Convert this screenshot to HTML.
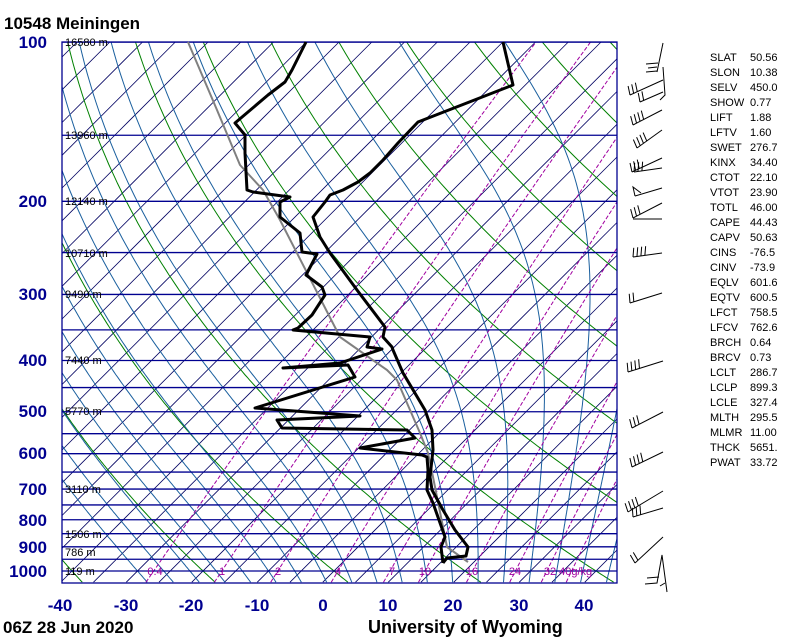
<!DOCTYPE html>
<html><head><meta charset="utf-8">
<style>
html,body{margin:0;padding:0;background:#fff;width:800px;height:640px;overflow:hidden;}
svg{display:block;}
text{font-family:"Liberation Sans",Arial,sans-serif;}
</style></head>
<body>
<svg id="s" width="800" height="640" viewBox="0 0 800 640" xmlns="http://www.w3.org/2000/svg" overflow="hidden">
<g id="bg"></g>
<g fill="#fff">
<rect x="0" y="0" width="62" height="640"/>
<rect x="617" y="0" width="183" height="640"/>
<rect x="0" y="0" width="800" height="42"/>
<rect x="0" y="583" width="800" height="57"/>
</g>
<g id="fg"></g>
<text x="4" y="29" font-size="17" font-weight="bold">10548  Meiningen</text>
<g font-size="17" font-weight="bold" fill="#000090" text-anchor="end">
<text x="47" y="48">100</text><text x="47" y="207">200</text><text x="47" y="300">300</text>
<text x="47" y="366">400</text><text x="47" y="417">500</text><text x="47" y="459">600</text>
<text x="47" y="495">700</text><text x="47" y="526">800</text><text x="47" y="553">900</text>
<text x="47" y="577">1000</text></g>
<g font-size="17" font-weight="bold" fill="#000090" text-anchor="middle">
<text x="60" y="611">-40</text><text x="126" y="611">-30</text><text x="191" y="611">-20</text>
<text x="257" y="611">-10</text><text x="323" y="611">0</text><text x="388" y="611">10</text>
<text x="453" y="611">20</text><text x="519" y="611">30</text><text x="584" y="611">40</text></g>
<text x="3" y="633" font-size="17" font-weight="bold">06Z 28 Jun 2020</text>
<text x="368" y="633" font-size="18" font-weight="bold">University of Wyoming</text>
<g font-size="11" fill="#000">
<text x="65" y="46">16580 m</text><text x="65" y="139">13960 m</text><text x="65" y="205">12140 m</text>
<text x="65" y="257">10710 m</text><text x="65" y="298">9490 m</text><text x="65" y="364">7440 m</text>
<text x="65" y="415">5770 m</text><text x="65" y="493">3110 m</text><text x="65" y="538">1506 m</text>
<text x="65" y="556">786 m</text><text x="65" y="575">119 m</text></g>
<g font-size="11" fill="#a000a0" text-anchor="middle">
<text x="155" y="575">0.4</text><text x="222" y="575">1</text><text x="278" y="575">2</text>
<text x="338" y="575">4</text><text x="392" y="575">7</text><text x="425" y="575">10</text>
<text x="472" y="575">16</text><text x="515" y="575">24</text><text x="568" y="575">32 40g/kg</text></g>
<g id="stats" font-size="11" fill="#000"></g>
<g id="barbs" stroke="#000" stroke-width="1" fill="none"></g>
</svg>
<script>
var NS="http://www.w3.org/2000/svg";
function el(p,n,a){var e=document.createElementNS(NS,n);for(var k in a)e.setAttribute(k,a[k]);p.appendChild(e);return e;}
var bg=document.getElementById('bg'),fg=document.getElementById('fg');
function Y(p){return 571+229.7*Math.log(p/1000);}
function X(T,p){return 322+6.55*T+(583-Y(p));}
var ps=[];for(var q=1050;q>=100;q-=5)ps.push(q);
function clipPt(q){return [Math.max(-20,Math.min(820,q[0])),Math.max(0,Math.min(640,q[1]))];}
function line(pts,st,w,dash){pts=pts.filter(function(q){return isFinite(q[0])&&isFinite(q[1])&&q[0]>-300&&q[0]<1100;});if(pts.length<2)return;var d=pts.map(function(q,i){return (i?'L':'M')+q[0].toFixed(1)+' '+q[1].toFixed(1)}).join('');var a={d:d,stroke:st,'stroke-width':w,fill:'none'};if(dash)a['stroke-dasharray']=dash;el(bg,'path',a);}
for(var T=-170;T<=60;T+=5){var xa=X(T,1050),ya=Y(1050),xb=X(T,100),yb=Y(100);
 // clip to box x range
 var t1=0,t2=1,dx=xb-xa;
 if(xa<62)t1=Math.max(t1,(62-xa)/dx); if(xb>617)t2=Math.min(t2,(617-xa)/dx);
 if(t1<t2)line([[xa+dx*t1,ya+(yb-ya)*t1],[xa+dx*t2,ya+(yb-ya)*t2]],'#000060',0.8);}
for(var th=173.15;th<=593.15;th+=20){(function(th){line(ps.map(function(p){var t=th*Math.pow(p/1000,0.286)-273.15;return [X(t,p),Y(p)];}),'#008000',1);})(th);}
function es(t){return 6.112*Math.exp(17.67*t/(t+243.5));}
function dTdp(Tk,p){var e=es(Tk-273.15),rs=0.622*e/(p-e),Lv=2.5e6,Rd=287,cp=1004;return (Rd*Tk+Lv*rs)/(p*(cp+Lv*Lv*rs*0.622/(Rd*Tk*Tk)));}
for(var t0=-30;t0<=46;t0+=4){var pts=[];var Tk=t0+273.15;var down=[];var Td=Tk;
 for(var pp=1000;pp<=1050;pp+=5){down.push([X(Td-273.15,pp),Y(pp)]);Td+=dTdp(Td,pp)*5;}
 for(var pp2=1000;pp2>=100;pp2-=5){pts.push([X(Tk-273.15,pp2),Y(pp2)]);Tk-=dTdp(Tk,pp2)*5;}
 line(down.reverse().concat(pts),'#1a5f9e',1);}
[0.4,1,2,4,7,10,16,24,32,40].forEach(function(w){line(ps.map(function(p){var e=w*p/(622+w),l=Math.log(e/6.112);var t=243.5*l/(17.67-l);return [X(t,p),Y(p)];}),'#a000a0',1,'4,2');});
[100,150,200,250,300,350,400,450,500,550,600,650,700,750,800,850,900,950,1000].forEach(function(p){el(bg,'line',{x1:62,x2:617,y1:Y(p),y2:Y(p),stroke:'#000090','stroke-width':1.3});});
el(fg,'rect',{x:62,y:42,width:555,height:541,fill:'none',stroke:'#000090','stroke-width':1.3});
function pl(a,c,w){el(fg,'polyline',{points:a.map(function(q){return q.join(',')}).join(' '),fill:'none',stroke:c,'stroke-width':w,'stroke-linejoin':'round'});}
pl([[188,42],[217,110],[240,165],[263,190],[280,220],[340,337],[387,370],[397,380],[420,433],[428,453],[433,477],[447,547],[468,562]],'#808080',2);
pl([[306,42],[292,70],[285,82],[268,95],[235,123],[245,135],[245,153],[247,190],[253,192],[290,197],[280,202],[280,217],[300,233],[302,252],[317,254],[306,275],[322,287],[325,295],[312,315],[298,328],[293,330],[370,337],[367,347],[382,349],[340,363],[283,368],[348,365],[355,377],[255,408],[360,416],[277,420],[282,428],[407,430],[415,438],[360,448],[422,455],[427,457],[428,470],[427,490],[433,503],[445,537],[441,547],[443,563]],'#000',3);
pl([[503,42],[513,85],[418,122],[398,143],[383,160],[370,173],[358,182],[343,190],[330,195],[325,202],[313,217],[320,237],[330,253],[357,290],[385,327],[383,337],[392,347],[393,350],[403,373],[425,410],[432,430],[433,450],[430,477],[432,490],[443,510],[455,530],[468,547],[466,556],[447,558],[443,563]],'#000',3);
var st=[["SLAT","50.56"],["SLON","10.38"],["SELV","450.0"],["SHOW","0.77"],["LIFT","1.88"],["LFTV","1.60"],["SWET","276.7"],["KINX","34.40"],["CTOT","22.10"],["VTOT","23.90"],["TOTL","46.00"],["CAPE","44.43"],["CAPV","50.63"],["CINS","-76.5"],["CINV","-73.9"],["EQLV","601.6"],["EQTV","600.5"],["LFCT","758.5"],["LFCV","762.6"],["BRCH","0.64"],["BRCV","0.73"],["LCLT","286.7"],["LCLP","899.3"],["LCLE","327.4"],["MLTH","295.5"],["MLMR","11.00"],["THCK","5651."],["PWAT","33.72"]];
var sg=document.getElementById('stats');
st.forEach(function(r,i){var y=61+i*15;el(sg,'text',{x:710,y:y}).textContent=r[0];el(sg,'text',{x:750,y:y}).textContent=r[1];});
var bb=document.getElementById('barbs');
function barb(x1,y1,x2,y2,n){el(bb,'line',{x1:x1,y1:y1,x2:x2,y2:y2});var dx=x2-x1,dy=y2-y1,L=Math.sqrt(dx*dx+dy*dy),ux=dx/L,uy=dy/L;var px=uy,py=-ux;if(py>0){px=-px;py=-py;}
 for(var i=0;i<n;i++){var bx=x2-ux*i*4,by=y2-uy*i*4;el(bb,'line',{x1:bx,y1:by,x2:bx+px*9-ux*2,y2:by+py*9-uy*2});}}
barb(663,43,657,72,0);
el(bb,'line',{x1:646,y1:64,x2:658,y2:63});el(bb,'line',{x1:648,y1:68,x2:657,y2:67});el(bb,'line',{x1:646,y1:72,x2:657,y2:71});
barb(663,80,630,95,3);barb(663,92,640,102,2);el(bb,'polyline',{points:"663,67 665,95 660,100"});
barb(662,110,633,125,4);barb(662,130,637,148,4);barb(662,158,632,172,3);barb(662,168,634,172,3);
barb(662,188,635,196,0);el(bb,'polyline',{points:"635,196 633,187 641,193"});
barb(662,203,633,218,3);el(bb,'line',{x1:633,y1:219,x2:662,y2:219});
barb(662,253,633,257,4);barb(662,293,630,303,2);
barb(663,361,628,372,4);barb(663,412,632,428,3);barb(663,452,632,467,4);barb(663,491,628,512,4);barb(663,508,633,517,3);
barb(663,537,635,563,2);
el(bb,'polyline',{points:"645,584 657,583 662,555 667,592"});el(bb,'line',{x1:647,y1:578,x2:659,y2:577});el(bb,'line',{x1:660,y1:586,x2:665,y2:583});
</script>
</body></html>
